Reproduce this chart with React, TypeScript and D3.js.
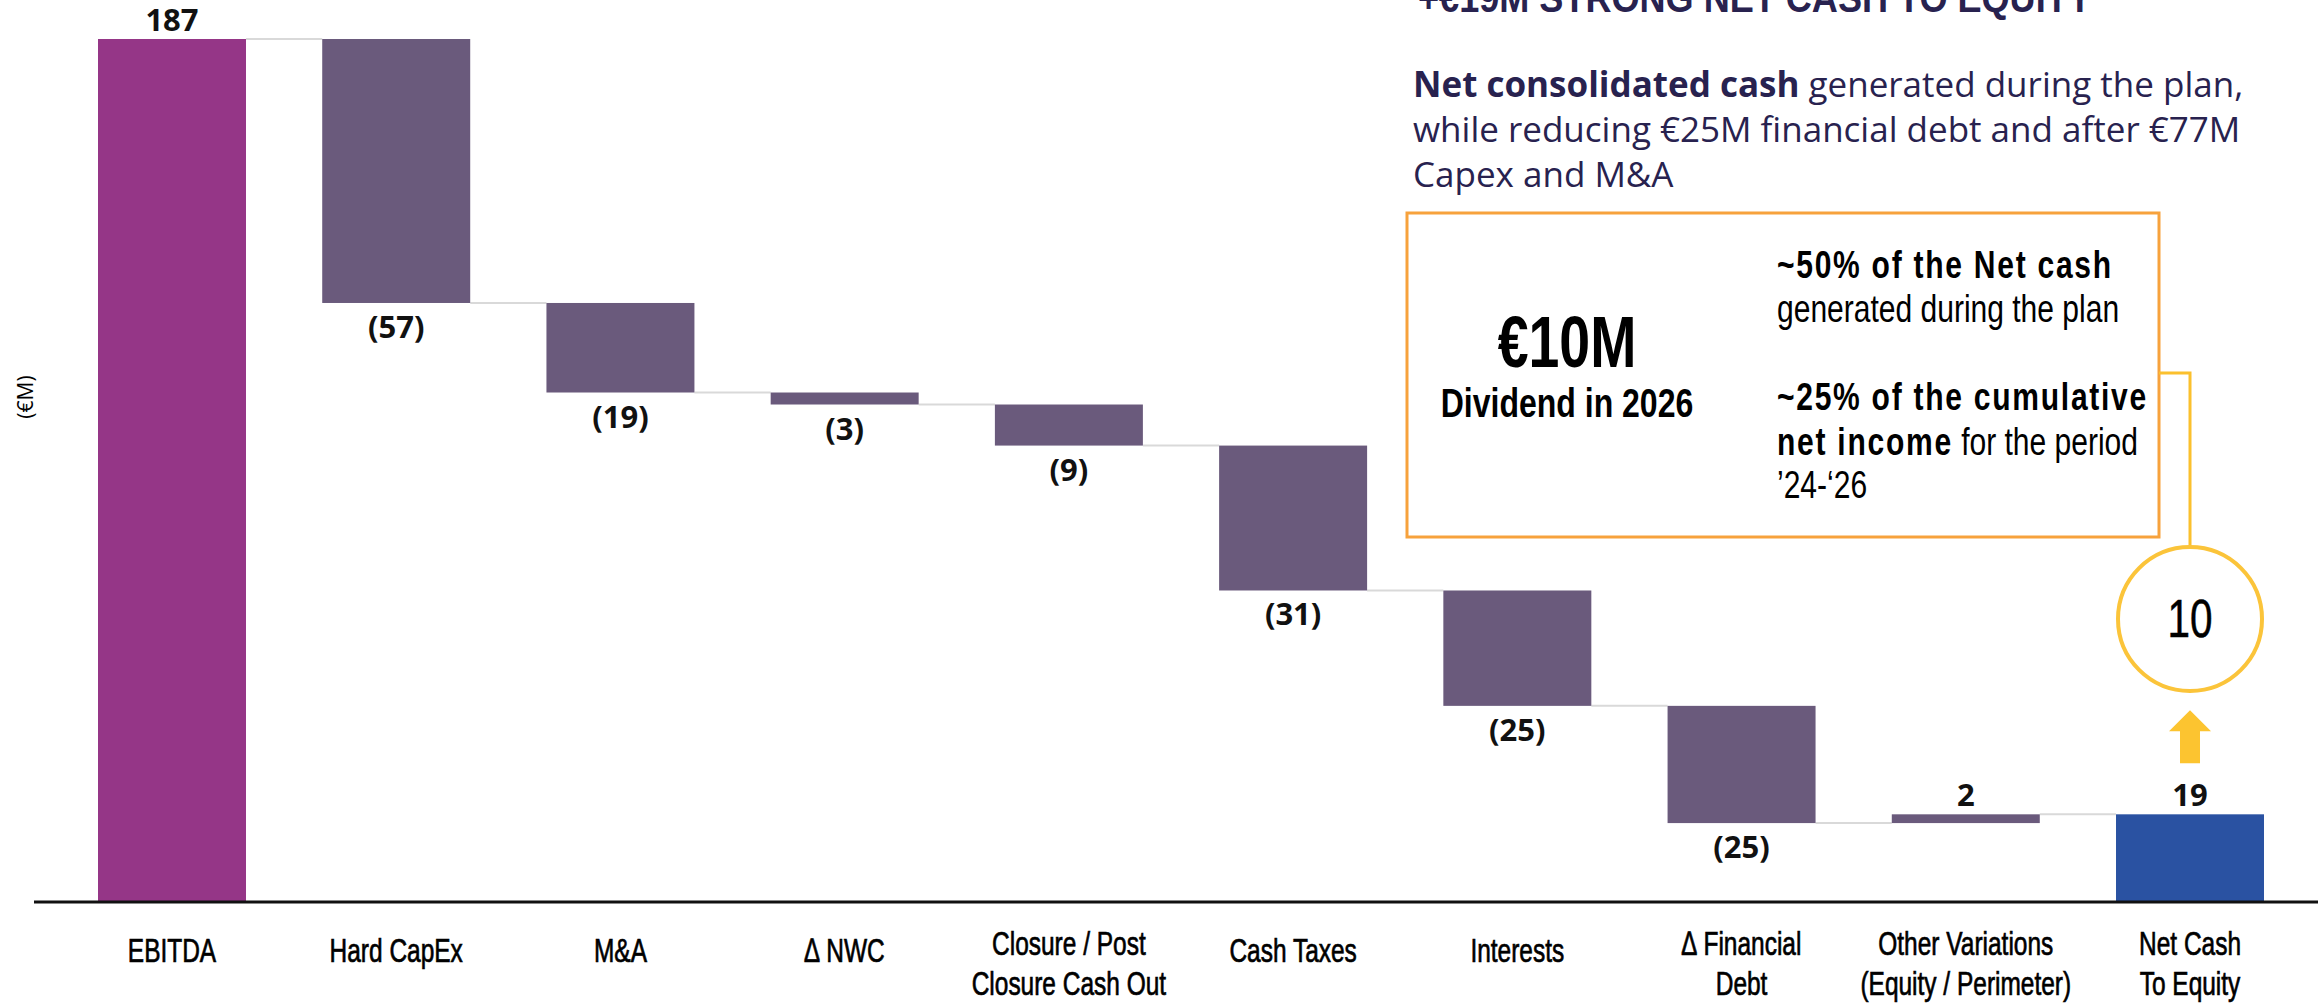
import React from 'react';
import * as d3 from 'd3';

// waterfall data (€M)
const categories = [
  'EBITDA',
  'Hard CapEx',
  'M&A',
  '∆ NWC',
  'Closure / Post Closure Cash Out',
  'Cash Taxes',
  'Interests',
  '∆ Financial Debt',
  'Other Variations (Equity / Perimeter)',
  'Net Cash To Equity',
];
const categoryLines = [
  ['EBITDA'],
  ['Hard CapEx'],
  ['M&A'],
  ['∆ NWC'],
  ['Closure / Post', 'Closure Cash Out'],
  ['Cash Taxes'],
  ['Interests'],
  ['∆ Financial', 'Debt'],
  ['Other Variations', '(Equity / Perimeter)'],
  ['Net Cash', 'To Equity'],
];
const changes = [187, -57.2, -19.4, -2.6, -8.9, -31.4, -25, -25.4, 1.9];
const netCashTotal = 19;
const dividend = 10;

const titleText = '+€19M STRONG NET CASH TO EQUITY';
const boxRight = [
  { bold: '~50% of the Net cash', rest: '' },
  { bold: '', rest: 'generated during the plan' },
  { bold: '~25% of the cumulative', rest: '' },
  { bold: 'net income', rest: ' for the period' },
  { bold: '', rest: '’24-‘26' },
];

const W = 2320;
const H = 1008;
const NARROW = "'Liberation Sans', Arial, sans-serif";
const LABEL = "'Open Sans', 'Noto Sans', sans-serif";
const NAVY = '#28224f';

type Step = { cat: string; start: number; end: number; value: number; kind: string };

// the reference uses a condensed face; squeeze a regular one horizontally
const Cond: React.FC<{ x: number; y: number; size: number; weight?: number; anchor?: string; sx?: number; fill?: string; thick?: number; children: React.ReactNode }> =
  ({ x, y, size, weight = 400, anchor = 'start', sx = 0.8, fill = '#000', thick = 0, children }) => (
    <text transform={`translate(${x},${y}) scale(${sx},1)`} fontFamily={NARROW} fontSize={size}
      fontWeight={weight} textAnchor={anchor} fill={fill}
      stroke={thick ? fill : 'none'} strokeWidth={thick}>{children}</text>
  );

const App: React.FC = () => {
  let run = 0;
  const steps: Step[] = changes.map((v, i) => {
    const start = i === 0 ? 0 : run;
    run = start + v;
    return { cat: categories[i], start, end: run, value: v, kind: i === 0 ? 'start' : 'delta' };
  });
  steps.push({ cat: categories[categories.length - 1], start: 0, end: netCashTotal, value: netCashTotal, kind: 'end' });

  const x = d3.scaleBand<string>().domain(categories).range([98, 2264]).paddingInner(0.34).paddingOuter(0);
  const y = d3.scaleLinear().domain([0, 187]).range([902, 39]);
  const bw = x.bandwidth();

  const colors: Record<string, string> = { start: '#953687', delta: '#6a5a7c', end: '#2a52a2' };
  const fmt = (v: number) => (v < 0 ? `(${Math.round(-v)})` : `${Math.round(v)}`);

  const netX = (x(categories[9]) as number) + bw / 2;
  const netTop = y(netCashTotal);

  return (
    <svg width={W} height={H} style={{ position: 'absolute', left: 0, top: 0, background: '#fff' }}>
      {/* connectors */}
      {steps.slice(0, -1).map((s, i) => (
        <line key={'c' + i}
          x1={(x(s.cat) as number) + bw} x2={x(steps[i + 1].cat) as number}
          y1={y(s.end)} y2={y(s.end)}
          stroke="#d9d9d9" strokeWidth={2} />
      ))}
      {/* bars */}
      {steps.map((s, i) => (
        <rect key={'b' + i}
          x={x(s.cat)} width={bw}
          y={y(Math.max(s.start, s.end))}
          height={Math.abs(y(s.start) - y(s.end))}
          fill={colors[s.kind]} />
      ))}
      {/* value labels */}
      {steps.map((s, i) => {
        const cx = (x(s.cat) as number) + bw / 2;
        const pos = s.value >= 0;
        const yy = pos ? y(Math.max(s.start, s.end)) - 8 : y(Math.min(s.start, s.end)) + 35;
        return (
          <text key={'v' + i} x={cx} y={yy} textAnchor="middle" fontFamily={LABEL}
            fontWeight={700} fontSize={31} fill="#111">{fmt(s.value)}</text>
        );
      })}
      {/* baseline */}
      <line x1={34} x2={2318} y1={y(0)} y2={y(0)} stroke="#111" strokeWidth={3} />
      {/* category labels */}
      {categoryLines.map((lines, i) => {
        const cx = (x(categories[i]) as number) + bw / 2;
        const y0 = lines.length === 1 ? 962 : 955;
        return (
          <g key={'l' + i}>
            {lines.map((l, j) => (
              <Cond key={j} x={cx} y={y0 + j * 40} size={34} anchor="middle" sx={0.72} thick={0.7}>{l}</Cond>
            ))}
          </g>
        );
      })}
      {/* y unit */}
      <text transform="translate(33,397) rotate(-90)" textAnchor="middle" fontFamily={LABEL} fontSize={21} fill="#000">(€M)</text>

      {/* commentary */}
      <Cond x={1418} y={12} size={41} weight={700} sx={0.88} fill={NAVY}>{titleText}</Cond>
      <text fontFamily={LABEL} fontSize={35} fill={NAVY}>
        <tspan x={1413} y={97} fontWeight={700}>Net consolidated cash</tspan>
        <tspan> generated during the plan,</tspan>
        <tspan x={1413} y={142}>while reducing €25M financial debt and after €77M</tspan>
        <tspan x={1413} y={187}>Capex and M&amp;A</tspan>
      </text>

      <rect x={1407} y={213} width={752} height={324} fill="none" stroke="#f7a23c" strokeWidth={3} />
      <Cond x={1567} y={367} size={72} weight={700} anchor="middle" sx={0.77}>€{dividend}M</Cond>
      <Cond x={1567} y={417} size={40} weight={700} anchor="middle" sx={0.8}>Dividend in 2026</Cond>
      {boxRight.map((r, i) => {
        const ys = [278, 322, 410, 455, 498];
        return (
          <Cond key={'r' + i} x={1777} y={ys[i]} size={38} sx={0.79}>
            {r.bold && <tspan fontWeight={700} letterSpacing={2.2}>{r.bold}</tspan>}
            {r.rest && <tspan>{r.rest}</tspan>}
          </Cond>
        );
      })}

      {/* dividend callout */}
      <path d={`M2159,373 H${netX} V547`} fill="none" stroke="#fbc02d" strokeWidth={3} />
      <circle cx={netX} cy={619} r={72} fill="#fff" stroke="#fbc43a" strokeWidth={4} />
      <Cond x={netX} y={637} size={54} anchor="middle" sx={0.75} thick={0.5}>{dividend}</Cond>
      <path
        d={`M${netX},${netTop - 104} L${netX + 21},${netTop - 83} H${netX + 10} V${netTop - 51} H${netX - 10} V${netTop - 83} H${netX - 21} Z`}
        fill="#fcc430" />
    </svg>
  );
};

export default App;
